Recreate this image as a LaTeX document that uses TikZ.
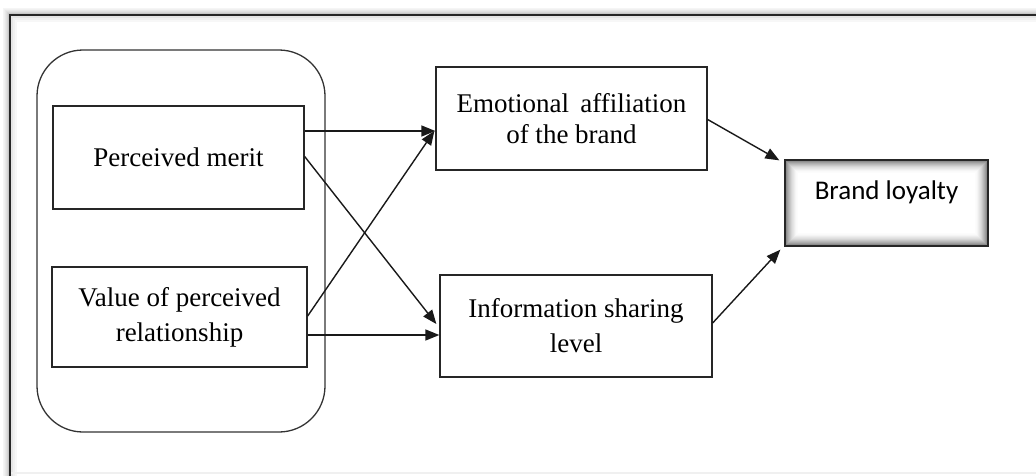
\documentclass[tikz,border=0pt]{standalone}
\usepackage{fontspec}
\setmainfont{Liberation Serif}
\newfontfamily\calibrifont{Carlito}
\usetikzlibrary{arrows.meta,calc}
\tikzset{
  box/.style={draw=black!85, line width=1.3pt, fill=white, align=center, inner sep=0pt,
    font=\fontsize{27}{31}\selectfont},
  arr/.style={draw=black!90, line width=1.4pt, -{Triangle[length=14pt,width=11pt]}},
}
\begin{document}
\begin{tikzpicture}[x=1pt,y=-1pt]
\clip (0,0) rectangle (1036,475);
\fill[white] (0,0) rectangle (1036,475);
% outer frame with soft shadow
\foreach \i/\c in {7/4,6/6,5/9,4/12,3/16,2/22,1/30}{
  \draw[black!\c, line width=1pt] (10-\i,15-\i) rectangle (1050+\i,490+\i);
}
\foreach \i/\c in {2/10,4/6,6/3}{
  \draw[black!\c, line width=1.5pt] (10+\i,490) -- (10+\i,15+\i) -- (1050,15+\i);
}
\draw[black!6, line width=2pt] (10,473) -- (1036,473);
\draw[black!85, line width=1.5pt] (10,15) rectangle (1050,490);
% group
\node[draw=black!80, line width=1.3pt, rounded corners=46pt, minimum width=288pt, minimum height=382pt, inner sep=0pt] (grp) at (181,241) {};
% boxes
\node[box, minimum width=251pt, minimum height=103pt] (pm) at (178.5,157.5) {Perceived merit};
\node[box, minimum width=255pt, minimum height=100pt, font=\fontsize{27}{35}\selectfont] (val) at (179.5,317) {Value of perceived\\relationship};
\node[box, minimum width=271pt, minimum height=103pt] (emo) at (571.5,118.5) {Emotional\, affiliation\\of the brand};
\node[box, minimum width=272pt, minimum height=102pt, font=\fontsize{27}{35}\selectfont] (info) at (576,326) {Information sharing\\level};
\node[draw=black!85, line width=1.3pt, fill=white, inner sep=0pt, minimum width=203pt, minimum height=86pt,
  font=\calibrifont\fontsize{27}{31}\selectfont, text height=18pt, text depth=26pt,
  path picture={
    \foreach \i in {1,...,14}{
      \pgfmathtruncatemacro\c{round(60*(1-\i/15)^2)}
      \draw[black!\c, line width=1.1pt] ([shift={(\i pt,-\i pt)}]path picture bounding box.north west) rectangle ([shift={(-\i pt,\i pt)}]path picture bounding box.south east);
    }
  }] (bl) at (886.5,203) {Brand loyalty};
% connectors
\draw[arr] ([yshift=26.5pt]pm.east) -- ([yshift=26.5pt]pm.east -| emo.west);
\draw[arr] ([yshift=1pt]pm.east) -- ([xshift=-3pt,yshift=2pt]info.west);
\draw[arr] ([yshift=1pt]val.east) -- ([xshift=-1pt,yshift=-12.5pt]emo.west);
\draw[arr] ([yshift=-18pt]val.east) -- ([yshift=-18pt]val.east -| info.west);
\draw[arr] ([yshift=-1pt]emo.east) -- ([xshift=-5pt,yshift=-1pt]bl.north west);
\draw[arr] ([yshift=3pt]info.east) -- ([xshift=-4pt,yshift=-3pt]bl.south west);
\end{tikzpicture}
\end{document}
